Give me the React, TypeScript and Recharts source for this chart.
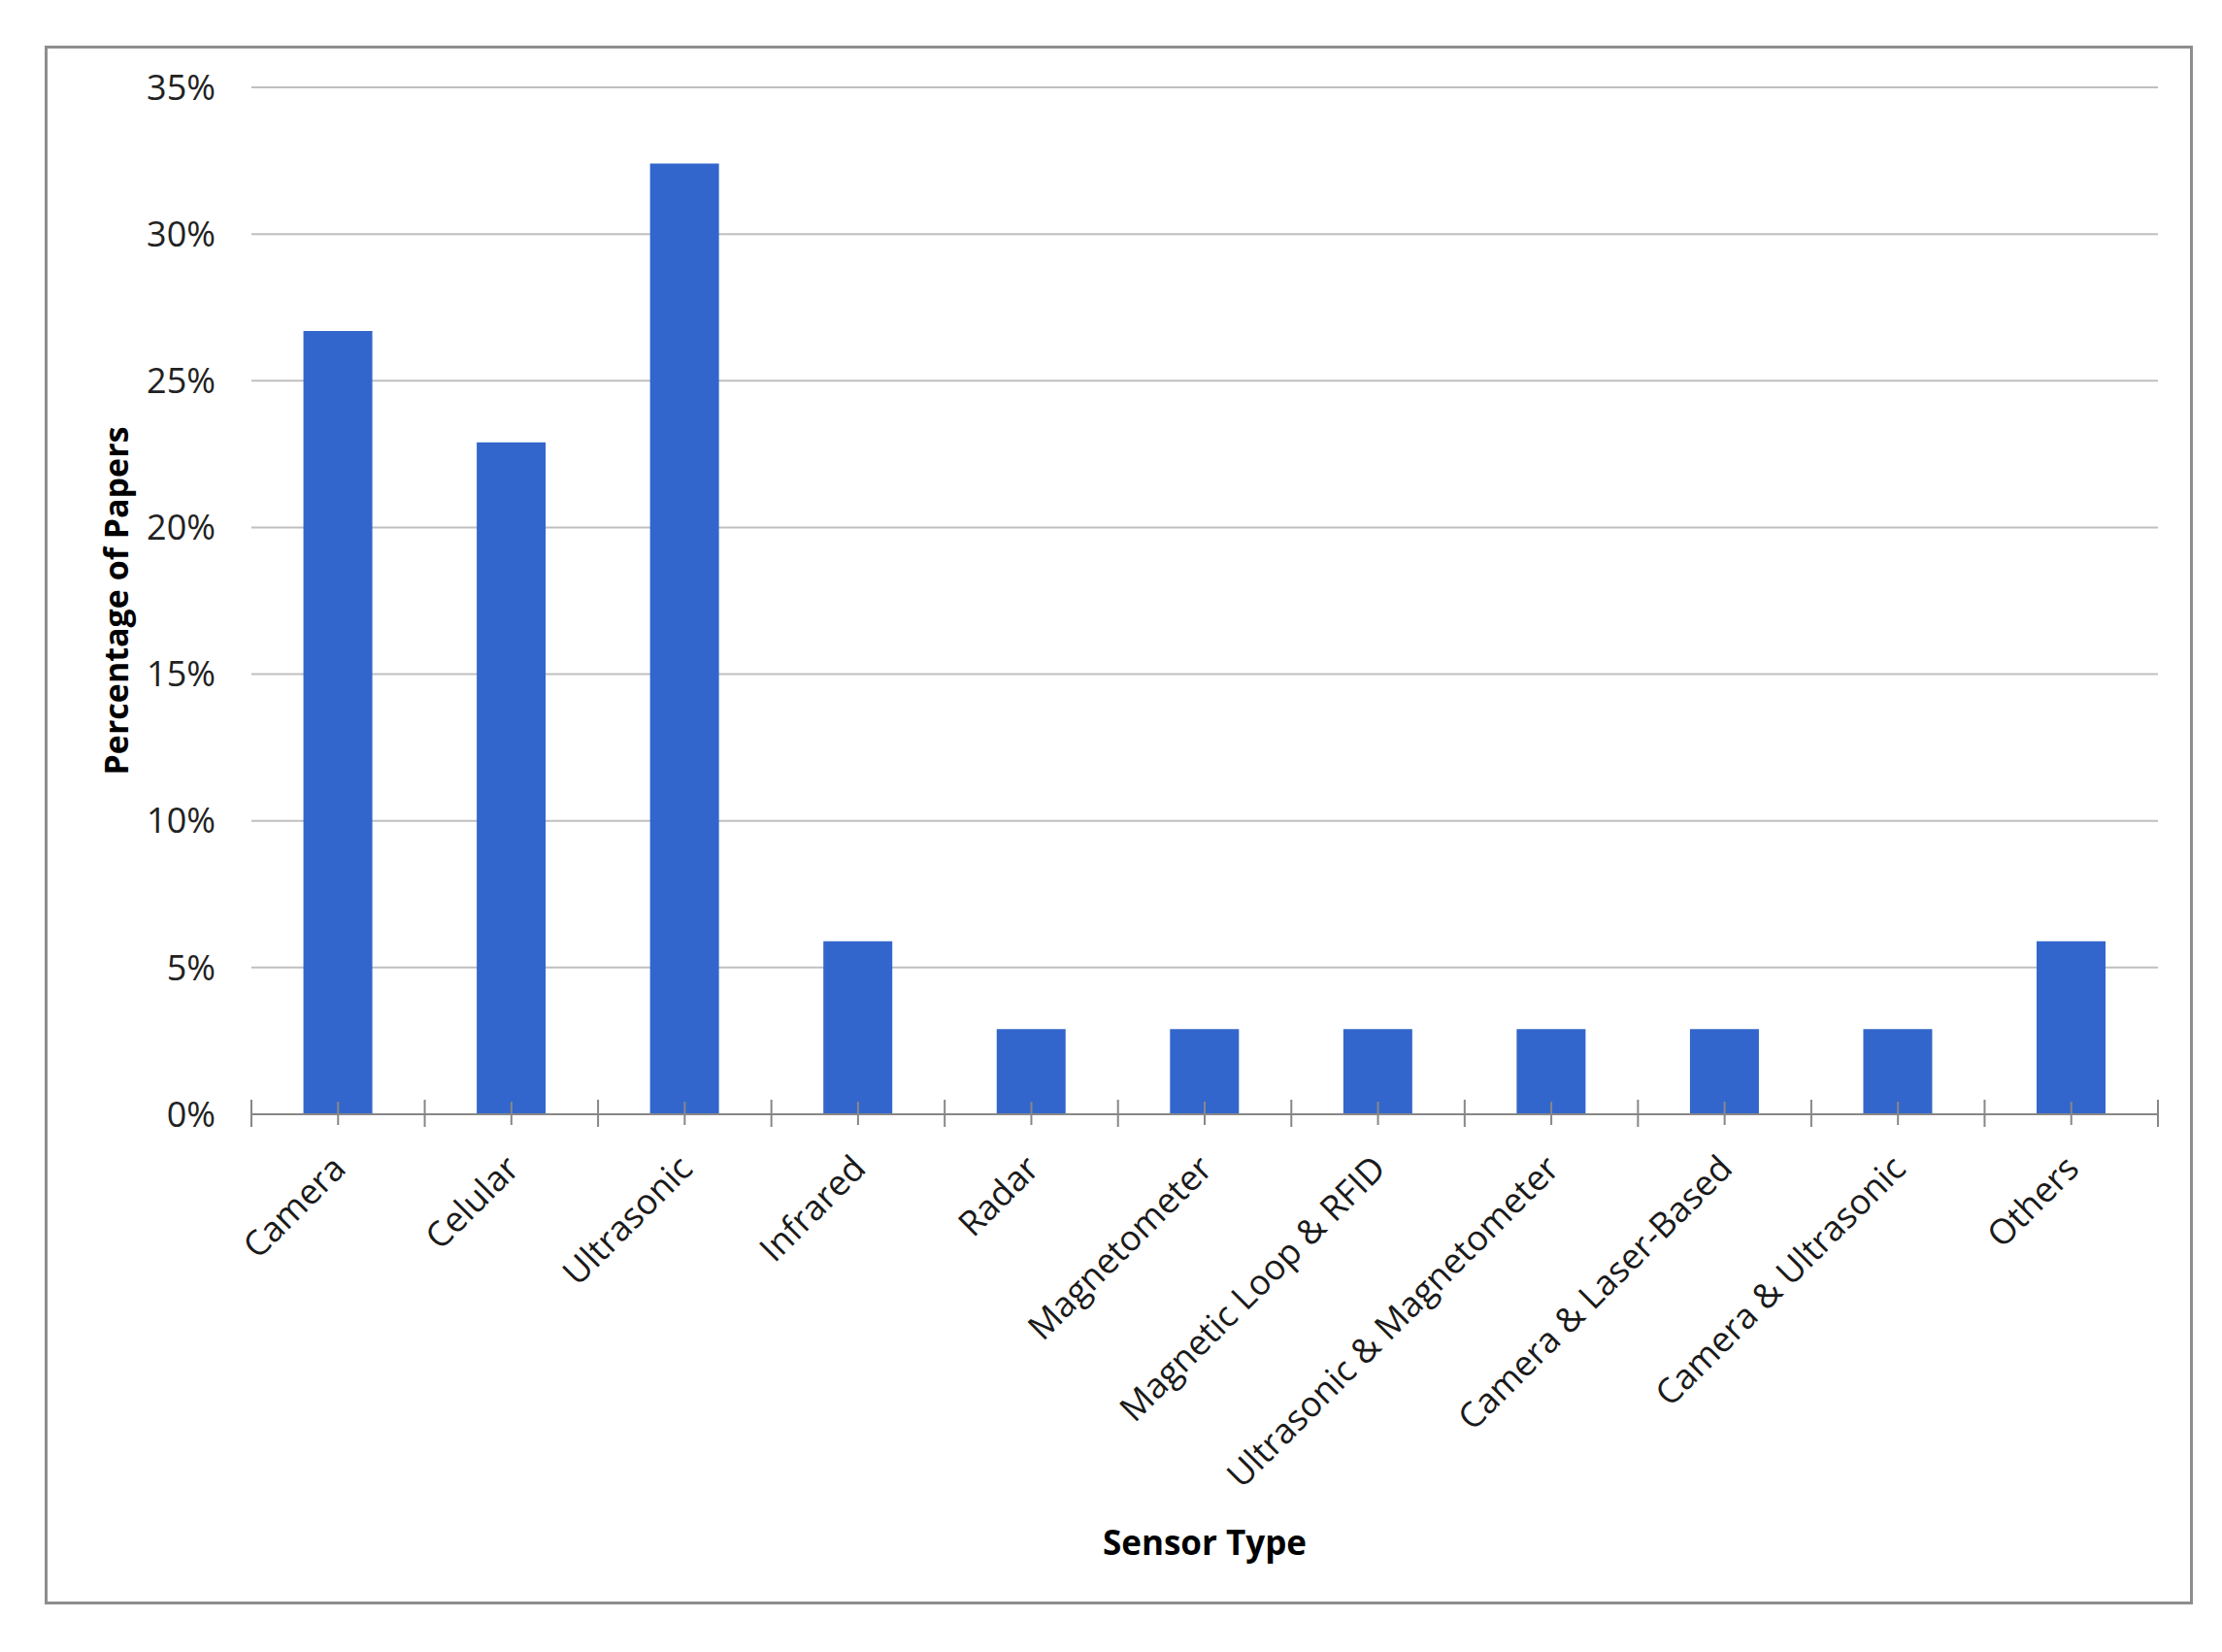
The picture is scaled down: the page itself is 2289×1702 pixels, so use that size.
import React from "react";
import {
  BarChart,
  Bar,
  XAxis,
  YAxis,
  CartesianGrid,
  Label,
} from "recharts";

const categories = [
  "Camera",
  "Celular",
  "Ultrasonic",
  "Infrared",
  "Radar",
  "Magnetometer",
  "Magnetic Loop & RFID",
  "Ultrasonic & Magnetometer",
  "Camera & Laser-Based",
  "Camera & Ultrasonic",
  "Others",
];

// percentage of papers per sensor type
const shares = [26.7, 22.9, 32.4, 5.9, 2.9, 2.9, 2.9, 2.9, 2.9, 2.9, 5.9];

const yTicks = [0, 5, 10, 15, 20, 25, 30, 35];

const data = categories.map((name, i) => ({ name, value: shares[i] }));

const W = 2289;
const H = 1702;
const MARGIN = { top: 90, right: 66, bottom: 54, left: 159 };
const Y_AXIS_W = 100;
const BAND = (W - MARGIN.left - MARGIN.right - Y_AXIS_W) / categories.length;

const FONT = "'Open Sans', sans-serif";
const AXIS_GREY = "#878787";

function SensorTick(props: any) {
  const { x, y, payload, index } = props;
  const half = BAND / 2;
  return (
    <g>
      <line x1={x} x2={x} y1={y - 13} y2={y + 11} stroke={AXIS_GREY} strokeWidth={2} />
      <line x1={x - half} x2={x - half} y1={y - 15} y2={y + 13} stroke={AXIS_GREY} strokeWidth={2} />
      {index === categories.length - 1 && (
        <line x1={x + half} x2={x + half} y1={y - 15} y2={y + 13} stroke={AXIS_GREY} strokeWidth={2} />
      )}
      <text
        transform={`translate(${x + 10}, ${y + 58}) rotate(-45)`}
        textAnchor="end"
        fill="#1a1a1a"
        fontSize={36}
        fontFamily={FONT}
      >
        {payload.value}
      </text>
    </g>
  );
}

export default function App() {
  return (
    <div style={{ position: "absolute", left: 0, top: 0, width: W, height: H, background: "#fff" }}>
      <div
        style={{
          position: "absolute",
          left: 46,
          top: 47,
          width: 2259 - 46,
          height: 1653 - 47,
          border: "3px solid #8e8e8e",
          boxSizing: "border-box",
        }}
      />
      <div style={{ position: "absolute", left: 0, top: 0 }}>
        <BarChart width={W} height={H} data={data} margin={MARGIN} barCategoryGap="30%">
          <CartesianGrid vertical={false} stroke="#bfbfbf" strokeWidth={2} />
          <XAxis
            dataKey="name"
            interval={0}
            height={500}
            tickSize={0}
            tickMargin={0}
            tickLine={false}
            axisLine={{ stroke: AXIS_GREY, strokeWidth: 2 }}
            tick={<SensorTick />}
          >
            <Label
              content={(p: any) => {
                const vb = p.viewBox;
                return (
                  <text
                    x={vb.x + vb.width / 2}
                    y={vb.y + 454}
                    textAnchor="middle"
                    fontSize={35}
                    fontWeight="bold"
                    fontFamily={FONT}
                    fill="#000"
                  >
                    Sensor Type
                  </text>
                );
              }}
            />
          </XAxis>
          <YAxis
            width={Y_AXIS_W}
            domain={[0, 35]}
            ticks={yTicks}
            interval={0}
            axisLine={false}
            tickLine={false}
            tickSize={0}
            tickMargin={37}
            tickFormatter={(v: number) => `${v}%`}
            tick={{ fill: "#222", fontSize: 36, fontFamily: FONT }}
          >
            <Label
              content={(p: any) => {
                const vb = p.viewBox;
                const cx = 119;
                const cy = vb.y + vb.height / 2;
                return (
                  <text
                    transform={`translate(${cx}, ${cy}) rotate(-90)`}
                    textAnchor="middle"
                    dominantBaseline="central"
                    fontSize={34}
                    fontWeight="bold"
                    fontFamily={FONT}
                    fill="#000"
                  >
                    Percentage of Papers
                  </text>
                );
              }}
            />
          </YAxis>
          <Bar dataKey="value" fill="#3366cc" isAnimationActive={false} />
        </BarChart>
      </div>
    </div>
  );
}
